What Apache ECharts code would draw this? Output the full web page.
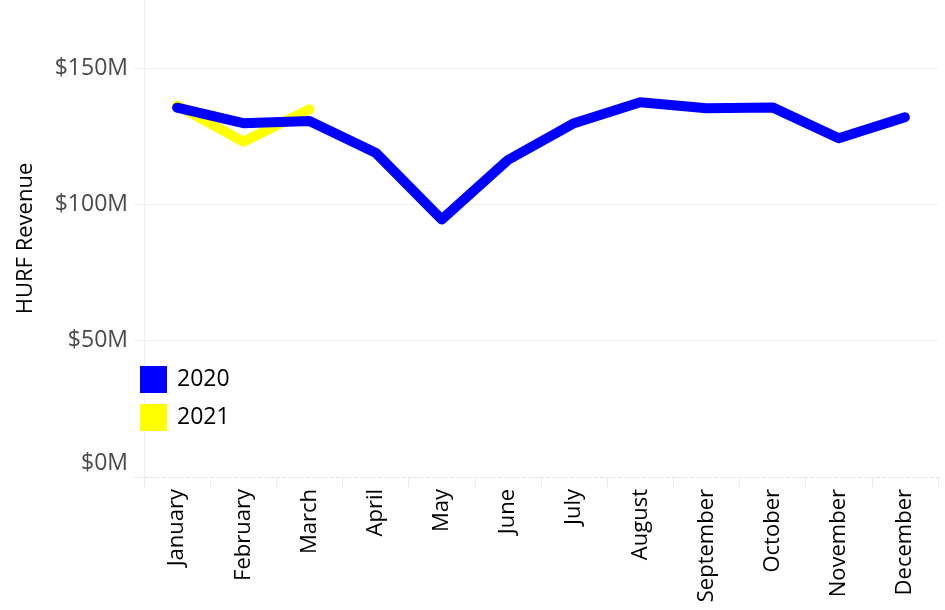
<!DOCTYPE html>
<html>
<head>
<meta charset="utf-8">
<script src="https://cdn.jsdelivr.net/npm/echarts@6/dist/echarts.min.js"></script>
<style>
  html, body { margin: 0; padding: 0; background: #fff; }
  #chart { width: 945px; height: 610px; }
</style>
</head>
<body>
<div id="chart"></div>
<script>
// Monthly HURF revenue, in millions of dollars
const months = ['January', 'February', 'March', 'April', 'May', 'June',
  'July', 'August', 'September', 'October', 'November', 'December'];
const revenue2020 = [135.5, 129.8, 130.6, 119.0, 94.5, 116.3, 129.8, 137.5, 135.3, 135.6, 124.3, 132.0];
const revenue2021 = [136.3, 123.0, 134.9];
const seriesNames = ['2020', '2021'];
const seriesColors = ['#0000ff', '#ffff00'];

const FONT = 'Open Sans';
const chart = echarts.init(document.getElementById('chart'));

chart.setOption({
  animation: false,
  backgroundColor: '#ffffff',
  grid: { left: 144, right: 7, top: 0, bottom: 133, containLabel: false },
  legend: {
    data: seriesNames,
    orient: 'vertical',
    left: 140,
    top: 366,
    padding: 0,
    icon: 'rect',
    itemWidth: 27,
    itemHeight: 27,
    itemGap: 11,
    textStyle: { fontFamily: FONT, fontSize: 23, color: '#000', padding: [0, 0, 0, 5] }
  },
  xAxis: {
    type: 'category',
    data: months,
    boundaryGap: true,
    axisLine: { show: true, lineStyle: { color: '#e3e3e3', type: 'dashed', width: 1 } },
    axisTick: { show: true, length: 10, lineStyle: { color: '#ececec' } },
    axisLabel: {
      rotate: 90,
      margin: 12,
      fontFamily: FONT,
      fontSize: 22,
      color: '#000'
    },
    splitLine: { show: false }
  },
  yAxis: {
    type: 'value',
    min: 0,
    max: 175,
    interval: 50,
    name: 'HURF Revenue',
    nameLocation: 'middle',
    nameGap: 107,
    nameRotate: 90,
    nameTextStyle: { fontFamily: FONT, fontSize: 22, color: '#000' },
    axisLine: { show: true, lineStyle: { color: '#efefef', width: 1 } },
    axisTick: { show: true, length: 10, lineStyle: { color: '#efefef' } },
    axisLabel: {
      margin: 16,
      fontFamily: FONT,
      fontSize: 23,
      color: '#4a4a4a',
      showMaxLabel: false,
      formatter: function (v) {
        if (v === 0) return '{z|$0M}';
        if (v > 150) return '';
        return '$' + v + 'M';
      },
      rich: {
        z: { fontFamily: FONT, fontSize: 23, color: '#4a4a4a', padding: [0, 0, 28, 0] }
      }
    },
    splitLine: { show: true, showMinLine: false, showMaxLine: false, lineStyle: { color: '#f0f0f0', width: 1 } }
  },
  series: [
    {
      name: '2021',
      type: 'line',
      data: revenue2021,
      showSymbol: false,
      symbol: 'none',
      color: seriesColors[1],
      lineStyle: { color: seriesColors[1], width: 10, cap: 'round', join: 'round' },
      z: 2
    },
    {
      name: '2020',
      type: 'line',
      data: revenue2020,
      showSymbol: false,
      symbol: 'none',
      color: seriesColors[0],
      lineStyle: { color: seriesColors[0], width: 10, cap: 'round', join: 'round' },
      z: 3
    }
  ]
});
</script>
</body>
</html>
